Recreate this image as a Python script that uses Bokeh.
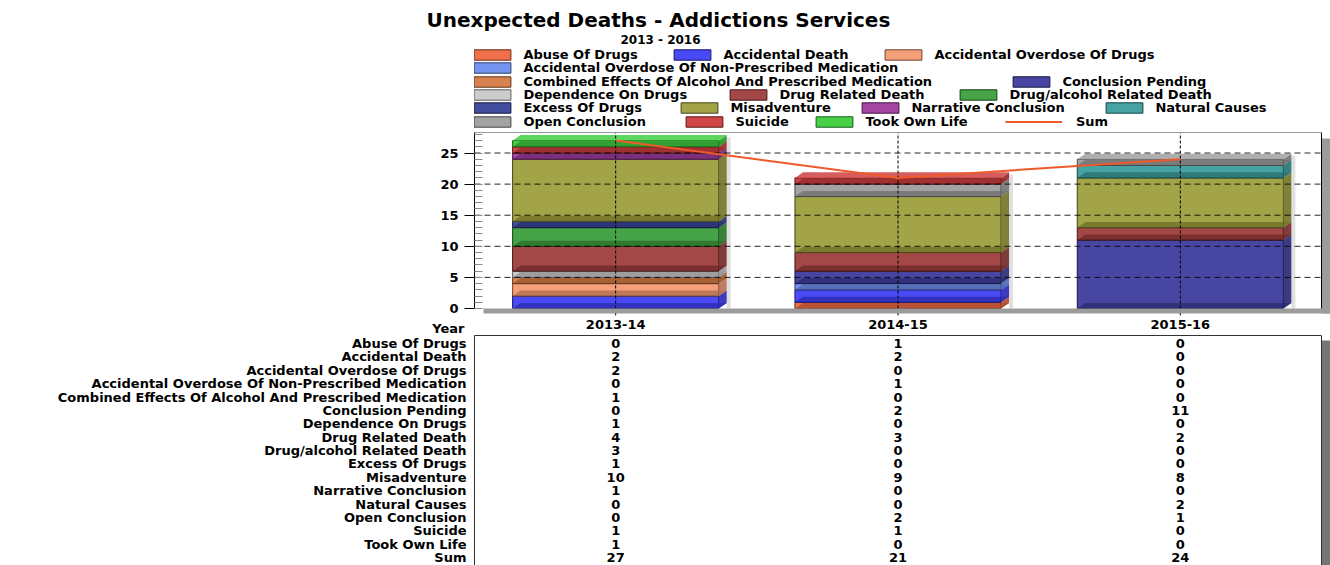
from bokeh.plotting import figure
from bokeh.models import (Range1d, FixedTicker, SingleIntervalTicker, LinearAxis,
                          Legend, LegendItem, Label, ColumnDataSource)
from bokeh.layouts import column
from bokeh.embed import file_html
from bokeh.resources import INLINE
from bokeh.core.properties import value

# ---- data -------------------------------------------------------------
years = ["2013-14", "2014-15", "2015-16"]

causes = [
    "Abuse Of Drugs",
    "Accidental Death",
    "Accidental Overdose Of Drugs",
    "Accidental Overdose Of Non-Prescribed Medication",
    "Combined Effects Of Alcohol And Prescribed Medication",
    "Conclusion Pending",
    "Dependence On Drugs",
    "Drug Related Death",
    "Drug/alcohol Related Death",
    "Excess Of Drugs",
    "Misadventure",
    "Narrative Conclusion",
    "Natural Causes",
    "Open Conclusion",
    "Suicide",
    "Took Own Life",
]

abuse_of_drugs = [0, 1, 0]
accidental_death = [2, 2, 0]
accidental_overdose_of_drugs = [2, 0, 0]
accidental_overdose_non_prescribed = [0, 1, 0]
combined_effects_alcohol_prescribed = [1, 0, 0]
conclusion_pending = [0, 2, 11]
dependence_on_drugs = [1, 0, 0]
drug_related_death = [4, 3, 2]
drug_alcohol_related_death = [3, 0, 0]
excess_of_drugs = [1, 0, 0]
misadventure = [10, 9, 8]
narrative_conclusion = [1, 0, 0]
natural_causes = [0, 0, 2]
open_conclusion = [0, 2, 1]
suicide = [1, 1, 0]
took_own_life = [1, 0, 0]

series = [
    abuse_of_drugs, accidental_death, accidental_overdose_of_drugs,
    accidental_overdose_non_prescribed, combined_effects_alcohol_prescribed,
    conclusion_pending, dependence_on_drugs, drug_related_death,
    drug_alcohol_related_death, excess_of_drugs, misadventure,
    narrative_conclusion, natural_causes, open_conclusion, suicide, took_own_life,
]

sums = [sum(s[i] for s in series) for i in range(len(years))]

# ---- styling ------------------------------------------------------------
colors = [
    "#EE6038", "#3535F5", "#F4956A", "#6688EE", "#D4763C", "#333399",
    "#C8C8C8", "#993333", "#339933", "#2E3A92", "#999933", "#993399",
    "#339999", "#999999", "#CC3333", "#33CC33",
]
SUM_COLOR = "#EE5A2C"
SHADOW = "#9c9c9c"
TABLE_SHADOW = "#767676"
FONT = "DejaVu Sans"
FS = "13px"

W = 1330
LEFT = 474                 # left edge of the plot area
PLOT_W = 847               # plot area width (3 categories)
SHADOW_PX = 9              # drop-shadow offset
FRAME_TOP = 31             # canvas row where the legend area starts (below the title)
PLOT_TOP = 132             # canvas row of the top of the value axis
ZERO_ROW = 308             # canvas row of y = 0
H_CHART = 316
H_YEARS = 19
H_TABLE = 565 - H_CHART - H_YEARS
Y_MAX = 28.3
BAR_W = 0.73

N = len(years)
PX_X = PLOT_W / N                      # pixels per category
PX_Y = (ZERO_ROW - PLOT_TOP) / Y_MAX   # pixels per unit
X_END = -0.5 + (W - LEFT) / PX_X
Y_START = -(H_CHART - ZERO_ROW) / PX_Y
Y_END = Y_MAX + (PLOT_TOP - FRAME_TOP) / PX_Y
DX = 8 / PX_X                          # box depth, horizontal
DY = 5.6 / PX_Y                        # box depth, vertical
SHADOW_Y = -5 / PX_Y


def shade(hex_color, f):
    """Scale towards black (f<1) or white (f>1)."""
    h = hex_color.lstrip("#")
    rgb = [int(h[i:i + 2], 16) for i in (0, 2, 4)]
    if f <= 1:
        rgb = [int(c * f) for c in rgb]
    else:
        rgb = [int(c + (255 - c) * (f - 1)) for c in rgb]
    return "#%02x%02x%02x" % tuple(rgb)


def bare_axis(**kw):
    return LinearAxis(ticker=FixedTicker(ticks=[]), major_tick_out=0, major_tick_in=0,
                      minor_tick_out=0, minor_tick_in=0, major_label_standoff=0, **kw)


def bold_labels(axis):
    axis.major_label_text_font = FONT
    axis.major_label_text_font_style = "bold"
    axis.major_label_text_font_size = FS
    axis.major_label_text_color = "black"


# ---- chart, with title and legend above the plot area ----------------------
p1 = figure(width=W, height=H_CHART, output_backend="svg", toolbar_location=None,
            x_range=Range1d(-0.5, X_END), y_range=Range1d(Y_START, Y_END),
            x_axis_location=None,
            min_border_left=LEFT, min_border_right=0,
            min_border_top=FRAME_TOP, min_border_bottom=0)
p1.outline_line_color = None
p1.background_fill_color = "white"
p1.border_fill_color = "white"
p1.grid.visible = False

p1.title.text = "Unexpected Deaths - Addictions Services"
p1.title.align = "left"
p1.title.offset = 426 - LEFT
p1.title.standoff = 0
p1.title.text_font = FONT
p1.title.text_font_style = "bold"
p1.title.text_font_size = "20px"
p1.title.text_color = "black"

p1.add_layout(Label(x=660 - LEFT, y=H_CHART - 39, x_units="screen", y_units="screen",
                    text="2013 - 2016", text_font=FONT, text_font_style="bold",
                    text_font_size="12px", text_color="black",
                    text_align="center", text_baseline="alphabetic"))

# 3D stacked boxes: one renderer per cause for the front faces
band = dict(xs=[], ys=[], fill=[])
side = dict(xs=[], ys=[], fill=[])
lid = dict(xs=[], ys=[], fill=[])
bases = [0] * N
cause_renderers = []
segments = [[] for _ in series]
for i in range(N):
    for k, s in enumerate(series):
        if s[i] > 0:
            segments[k].append((i, bases[i], bases[i] + s[i]))
            bases[i] += s[i]

# soft shadow to the right of each box stack
p1.quad(left=[i + BAR_W / 2 + DX for i in range(N)],
        right=[i + BAR_W / 2 + DX + 4 / PX_X for i in range(N)],
        bottom=[0] * N, top=[b + DY * 0.6 for b in bases],
        fill_color="black", fill_alpha=0.12, line_color=None)

for k, segs in enumerate(segments):
    src = ColumnDataSource(dict(
        left=[i - BAR_W / 2 for i, b, t in segs],
        right=[i + BAR_W / 2 for i, b, t in segs],
        bottom=[b for i, b, t in segs],
        top=[t for i, b, t in segs]))
    r = p1.quad(left="left", right="right", bottom="bottom", top="top", source=src,
                fill_color=colors[k], fill_alpha=0.9,
                line_color=shade(colors[k], 0.45), line_width=1)
    cause_renderers.append(r)
    for i, b, t in segs:
        L, R = i - BAR_W / 2, i + BAR_W / 2
        band["xs"].append([L, L + DX, R + DX, R])
        band["ys"].append([b, b + DY, b + DY, b])
        band["fill"].append(shade(colors[k], 0.6))
        side["xs"].append([R, R + DX, R + DX, R])
        side["ys"].append([b, b + DY, t + DY, t])
        side["fill"].append(shade(colors[k], 0.75))
        if t == bases[i]:
            lid["xs"].append([L, L + DX, R + DX, R])
            lid["ys"].append([t, t + DY, t + DY, t])
            lid["fill"].append(shade(colors[k], 1.12))

for faces, alpha in ((band, 0.55), (side, 0.9), (lid, 0.9)):
    p1.patches(xs="xs", ys="ys", fill_color="fill", fill_alpha=alpha, line_color=None,
               source=ColumnDataSource(faces))

# dashed grid, showing through the boxes
grid_levels = [5, 10, 15, 20, 25]
p1.segment(x0=-0.5, x1=N - 0.5, y0=grid_levels, y1=grid_levels,
           line_color="black", line_dash="6 4", line_width=1, line_alpha=0.85)
p1.segment(x0=list(range(N)), y0=SHADOW_Y, x1=list(range(N)), y1=Y_MAX,
           line_color="black", line_dash="3 2", line_width=1)

sum_line = p1.line(x=list(range(N)), y=sums, line_color=SUM_COLOR, line_width=2)

# plot-area frame and its drop shadow
p1.quad(left=[-0.5 + SHADOW_PX / PX_X, N - 0.5], right=[X_END, X_END],
        bottom=[SHADOW_Y, SHADOW_Y], top=[0, Y_MAX - 6 / PX_Y],
        fill_color=SHADOW, line_color=None)
p1.segment(x0=list(range(N)), y0=SHADOW_Y, x1=list(range(N)), y1=-7 / PX_Y,
           line_color="black", line_width=1)
p1.segment(x0=[N - 0.5, -0.5], y0=[0, Y_MAX], x1=[N - 0.5, N - 0.5], y1=[Y_MAX, Y_MAX],
           line_color=["black", "#9a9a9a"], line_width=1)

p1.yaxis.ticker = SingleIntervalTicker(interval=5, num_minor_ticks=5)
p1.yaxis.bounds = (0, Y_MAX)
p1.yaxis.axis_line_color = "black"
p1.yaxis.major_tick_out = 10
p1.yaxis.major_tick_in = 0
p1.yaxis.minor_tick_in = 8
p1.yaxis.minor_tick_out = 0
p1.yaxis.minor_tick_line_color = "#8a8a8a"
p1.yaxis.major_label_standoff = 6
bold_labels(p1.yaxis)

# legend: one box per entry, laid out in rows above the plot area
entries = list(zip(causes, cause_renderers)) + [("Sum", sum_line)]
legend_rows = [[0, 1, 2], [3], [4, 5], [6, 7, 8], [9, 10, 11, 12], [13, 14, 15, 16]]
legend_x = [[474, 674, 885], [474], [474, 1013], [474, 730, 960],
            [474, 681, 862, 1106], [474, 686, 816, 1005]]
legend_y = [54, 67.7, 81, 94.3, 107.7, 121]
ITEM_H = 15
SWATCH_W, SWATCH_H = 46, 13     # legend draws area swatches inset by 10%
for row, xs_row, yc in zip(legend_rows, legend_x, legend_y):
    for idx, sx in zip(row, xs_row):
        name, rend = entries[idx]
        is_line = name == "Sum"
        x0 = sx if is_line else sx - 0.1 * SWATCH_W
        p1.add_layout(Legend(
            items=[LegendItem(label=name, renderers=[rend])],
            location=(x0 - LEFT, H_CHART - (yc + ITEM_H / 2)),
            orientation="horizontal",
            glyph_width=57 if is_line else SWATCH_W, glyph_height=SWATCH_H,
            label_height=10, label_standoff=14 if is_line else 8,
            padding=0, margin=0,
            spacing=0, border_line_color=None, background_fill_alpha=0,
            label_text_font=FONT, label_text_font_style="bold",
            label_text_font_size=FS, label_text_color="black"), "center")

# ---- category labels under the chart ---------------------------------------
yrs = figure(width=W, height=H_YEARS, output_backend="svg", toolbar_location=None,
             x_range=Range1d(-0.5, X_END), y_range=Range1d(0, H_YEARS),
             x_axis_location=None,
             min_border_left=LEFT, min_border_right=0, min_border_top=0, min_border_bottom=0)
yrs.outline_line_color = None
yrs.grid.visible = False
yrs.text(x=list(range(N)), y=[H_YEARS - 7.6] * N, text=years,
         text_font=value(FONT), text_font_style="bold", text_font_size=FS,
         text_align="center", text_baseline="middle", text_color="black")
yrs.yaxis.ticker = FixedTicker(ticks=[H_YEARS - 11.5])
yrs.yaxis.major_label_overrides = {H_YEARS - 11.5: "Year"}
yrs.yaxis.axis_line_color = None
yrs.yaxis.major_tick_line_color = None
yrs.yaxis.minor_tick_line_color = None
yrs.yaxis.major_label_standoff = 4
bold_labels(yrs.yaxis)

# ---- data table ---------------------------------------------------------
rows = causes + ["Sum"]
n_rows = len(rows)
ROW_H = 13.375
y_top = (n_rows - 1) + 8 / ROW_H
y_bot = y_top - H_TABLE / ROW_H
p2 = figure(width=W, height=H_TABLE, output_backend="svg", toolbar_location=None,
            x_range=Range1d(-0.5, X_END), y_range=Range1d(y_bot, y_top),
            x_axis_location=None,
            min_border_left=LEFT, min_border_right=0, min_border_top=0, min_border_bottom=0)
p2.outline_line_color = None
p2.grid.visible = False

p2.yaxis.ticker = FixedTicker(ticks=list(range(n_rows)))
p2.yaxis.major_label_overrides = {n_rows - 1 - r: name for r, name in enumerate(rows)}
p2.yaxis.axis_line_color = "#333333"
p2.yaxis.major_tick_out = 0
p2.yaxis.major_tick_in = 0
p2.yaxis.minor_tick_line_color = None
p2.yaxis.major_label_standoff = 8
bold_labels(p2.yaxis)

p2.add_layout(bare_axis(axis_line_color="#333333", bounds=(-0.5, N - 0.5)), "above")

p2.quad(left=[N - 0.5], right=[X_END], bottom=[y_bot], top=[y_top - 5 / ROW_H],
        fill_color=TABLE_SHADOW, line_color=None)
p2.segment(x0=[N - 0.5], y0=[y_bot], x1=[N - 0.5], y1=[y_top], line_color="#333333")

cell_x, cell_y, cell_t = [], [], []
for r, name in enumerate(rows):
    vals = sums if name == "Sum" else series[r]
    for i in range(N):
        cell_x.append(i)
        cell_y.append(n_rows - 1 - r)
        cell_t.append(str(vals[i]))
p2.text(x="x", y="y", text="t", source=ColumnDataSource(dict(x=cell_x, y=cell_y, t=cell_t)),
        text_font=value(FONT), text_font_style="bold", text_font_size=FS,
        text_align="center", text_baseline="middle", text_color="black")

layout = column(p1, yrs, p2, spacing=0)
open("out.html", "w").write(file_html(layout, INLINE))
